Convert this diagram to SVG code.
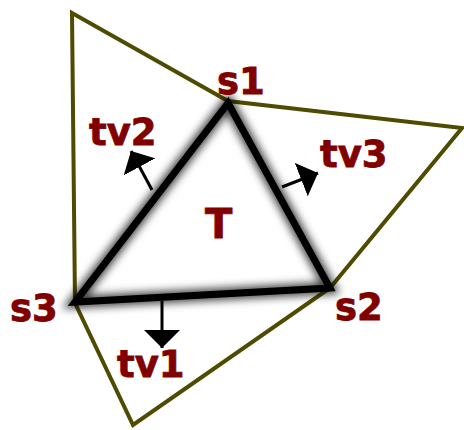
<svg xmlns="http://www.w3.org/2000/svg" width="464" height="430" viewBox="0 0 464 430">
<style>
.lbl{font-family:"DejaVu Sans","Verdana",sans-serif;font-weight:bold;font-size:37px;fill:#800000;stroke:#800000;stroke-width:0.8}
.outer{fill:none;stroke:#4f4b00;stroke-width:4;stroke-linejoin:miter}
.tri{fill:none;stroke:#000;stroke-width:7;stroke-linejoin:miter}
.glow{fill:none;stroke:#000;stroke-width:12;stroke-opacity:0.75;stroke-linejoin:miter}
.arr{stroke:#000;stroke-width:3;fill:none}
</style>
<defs>
<filter id="blur" x="-20%" y="-20%" width="140%" height="140%"><feGaussianBlur stdDeviation="4.5"/></filter>
<marker id="ah" markerUnits="userSpaceOnUse" markerWidth="20" markerHeight="36" refX="18" refY="18" orient="auto"><path d="M0,0 L18,18 L0,36 z" fill="#000"/></marker>
</defs>
<rect width="464" height="430" fill="#fff"/>
<g id="outer">
<polygon class="outer" points="72,13 228,101 462,128 330,288 133,425 75,303"/>
</g>
<g id="T">
<polygon class="glow" filter="url(#blur)" points="228,103 330,288 75,302"/>
<polygon class="tri" points="228,103 330,288 75,302"/>
<text class="lbl" x="205" y="238" style="font-size:40px">T</text>
</g>
<g id="connectors">
<line class="arr" x1="162" y1="301" x2="162" y2="348" marker-end="url(#ah)"/>
<line class="arr" x1="152" y1="190" x2="131" y2="151" marker-end="url(#ah)"/>
<line class="arr" x1="282" y1="187" x2="318" y2="173" marker-end="url(#ah)"/>
</g>
<g id="s1"><text class="lbl" x="217" y="94">s1</text></g>
<g id="s2"><text class="lbl" x="335" y="320">s2</text></g>
<g id="s3"><text class="lbl" x="10" y="321">s3</text></g>
<g id="tv1"><text class="lbl" x="117" y="377">tv1</text></g>
<g id="tv2"><text class="lbl" x="89" y="145">tv2</text></g>
<g id="tv3"><text class="lbl" x="320" y="167">tv3</text></g>
</svg>
